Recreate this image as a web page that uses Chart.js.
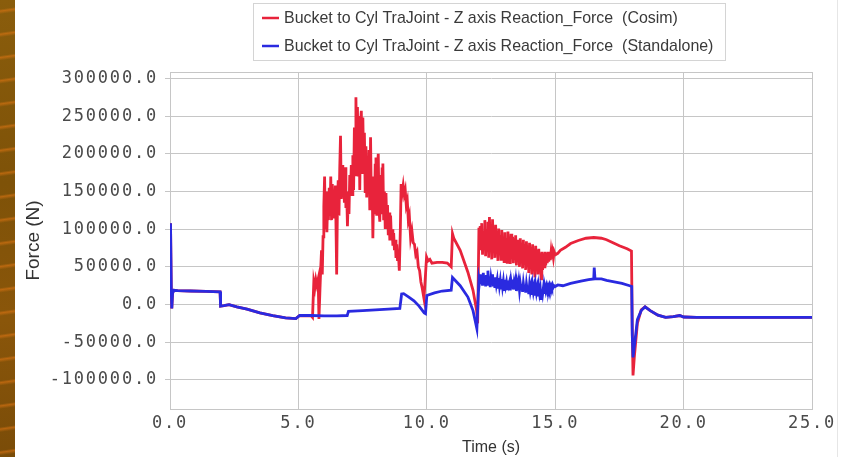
<!DOCTYPE html>
<html>
<head>
<meta charset="utf-8">
<script src="https://cdn.jsdelivr.net/npm/chart.js@4.4.1/dist/chart.umd.min.js"></script>
<style>
html,body{margin:0;padding:0;background:#fff;}
#wrap{position:relative;width:848px;height:457px;overflow:hidden;background:#fff;}
#strip{position:absolute;left:0;top:0;width:15px;height:457px;
  background:
   repeating-linear-gradient(172deg, rgba(0,0,0,0) 0px, rgba(0,0,0,0) 9px, rgba(230,120,20,0.55) 11px, rgba(0,0,0,0) 14px, rgba(0,0,0,0) 23px),
   linear-gradient(180deg,#8a5d0c 0%,#7e5208 40%,#8a560a 70%,#7a4c08 100%);}
#edge{position:absolute;left:837px;top:0;width:1px;height:457px;background:#e6e6e6;}
canvas{position:absolute;left:0;top:0;}
</style>
</head>
<body>
<div id="wrap">
  <div id="strip"></div>
  <div id="edge"></div>
  <canvas id="c" width="848" height="457"></canvas>
</div>
<script>
// ---------------- DATA ----------------
const seriesLabels = [
  "Bucket to Cyl TraJoint - Z axis Reaction_Force  (Cosim)",
  "Bucket to Cyl TraJoint - Z axis Reaction_Force  (Standalone)"
];
const xTickValues = [0, 5, 10, 15, 20, 25];
const yTickValues = [-100000, -50000, 0, 50000, 100000, 150000, 200000, 250000, 300000];

const timeStandalone = [
  0.00,0.02,0.05,0.07,0.10,0.15,0.30,0.80,1.40,1.95,1.97,2.10,2.30,2.60,3.00,3.50,4.00,4.50,4.90,5.05,
  5.50,6.00,6.50,6.90,6.95,7.50,8.00,8.50,8.95,9.02,9.10,9.30,9.50,9.70,9.90,9.95,10.00,10.30,10.60,10.95,
  11.00,11.30,11.60,11.80,11.95,12.03,
  12.05,12.08,12.11,12.14,12.17,12.20,12.23,12.26,12.29,12.32,12.35,12.38,12.41,12.44,12.47,12.50,12.53,12.56,12.59,12.62,
  12.65,12.68,12.71,12.74,12.77,12.80,12.83,12.86,12.89,12.92,12.95,12.98,13.01,13.04,13.07,13.10,13.13,13.16,13.19,13.22,
  13.25,13.28,13.31,13.34,13.37,13.40,13.43,13.46,13.49,13.52,13.55,13.58,13.61,13.64,13.67,13.70,13.73,13.76,13.79,13.82,
  13.85,13.88,13.91,13.94,13.97,14.00,14.03,14.06,14.09,14.12,14.15,14.18,14.21,14.24,14.27,14.30,14.33,14.36,14.39,14.42,
  14.45,14.48,14.51,14.54,14.57,14.60,14.63,14.66,14.69,14.72,14.75,14.78,14.81,14.84,14.87,14.90,14.93,14.96,15.00,15.10,
  15.30,15.60,16.00,16.30,16.50,16.52,16.55,16.80,17.00,17.30,17.60,17.90,17.98,18.00,18.03,18.10,18.20,18.35,18.50,18.70,
  19.00,19.30,19.60,19.85,20.00,20.50,21.00,22.00,23.00,24.00,25.00
];
const forceStandalone = [
  18000,108000,20000,-5000,15000,19000,18500,18000,17500,17000,-2000,-1500,0,-3000,-6000,-11000,-14500,-17500,-18500,-14500,
  -14500,-15000,-15000,-14500,-9000,-8000,-7000,-6000,-5000,14000,14500,10000,5000,-2000,-11000,-12000,12000,15500,18000,19000,
  36000,25000,10000,-8000,-32000,34000,
  30000,40000,27000,38000,25000,42000,28000,36000,24000,39000,27000,45000,26000,37000,23000,35000,28000,40000,24000,34000,
  22000,36000,27000,33000,21000,35000,25000,32000,22000,34000,24000,31000,20000,33000,25000,30000,21000,32000,26000,30000,
  19000,31000,24000,33000,20000,29000,23000,31000,18000,28000,22000,30000,19000,28000,21000,27000,17000,28000,20000,26000,
  16000,27000,19000,25000,14000,26000,18000,24000,13000,25000,17000,23000,12000,24000,16000,22000,11000,23000,15000,21000,
  8000,20000,14000,22000,16000,23000,18000,24000,19000,24000,20000,25000,21000,25000,22000,26000,23000,25000,24000,26000,
  25000,28000,31000,33000,34000,49000,34000,34000,32000,30000,28000,25000,24000,-40000,-70000,-50000,-20000,-8000,-3000,-8000,
  -14000,-17000,-16000,-14500,-16500,-17000,-17000,-17000,-17000,-17000,-17000
];

const timeCosim = [
  0.00,0.02,0.05,0.07,0.10,0.15,0.30,0.80,1.40,1.95,1.97,2.10,2.30,2.60,3.00,3.50,4.00,4.50,4.90,5.05,
  5.50,5.55,5.60,5.64,5.68,5.72,5.77,5.80,5.84,5.87,5.90,5.93,5.96,5.99,6.02,6.05,6.08,6.11,6.14,6.17,
  6.20,6.23,6.26,6.29,6.32,6.35,6.38,6.41,6.44,6.47,6.49,6.52,6.55,6.58,6.61,6.64,6.67,6.70,6.73,6.76,
  6.79,6.82,6.85,6.88,6.91,6.94,6.97,7.00,7.03,7.06,7.09,7.12,7.15,7.18,7.21,7.24,7.27,7.30,7.33,7.36,
  7.39,7.42,7.45,7.48,7.51,7.54,7.57,7.60,7.63,7.66,7.69,7.72,7.75,7.78,7.81,7.84,7.87,7.90,7.93,7.96,
  7.99,8.02,8.05,8.08,8.11,8.14,8.17,8.20,8.23,8.26,8.29,8.32,8.35,8.38,8.41,8.44,8.47,8.50,8.53,8.56,
  8.59,8.62,8.65,8.68,8.71,8.74,8.77,8.80,8.83,8.86,8.89,8.93,8.97,9.00,9.04,9.08,9.12,9.16,9.20,9.24,
  9.28,9.32,9.37,9.42,9.47,9.52,9.57,9.62,9.67,9.72,9.77,9.82,9.89,9.95,9.99,10.05,10.12,10.20,10.40,10.60,
  10.80,10.95,11.00,11.05,11.30,11.60,11.80,11.94,11.98,12.03,
  12.05,12.08,12.11,12.14,12.17,12.20,12.23,12.26,12.29,12.32,12.35,12.38,12.41,12.44,12.47,12.50,12.53,12.56,12.59,12.62,
  12.65,12.68,12.71,12.74,12.77,12.80,12.83,12.86,12.89,12.92,12.95,12.98,13.01,13.04,13.07,13.10,13.13,13.16,13.19,13.22,
  13.25,13.28,13.31,13.34,13.37,13.40,13.43,13.46,13.49,13.52,13.55,13.58,13.61,13.64,13.67,13.70,13.73,13.76,13.79,13.82,
  13.85,13.88,13.91,13.94,13.97,14.00,14.03,14.06,14.09,14.12,14.15,14.18,14.21,14.24,14.27,14.30,14.33,14.36,14.39,14.42,
  14.45,14.48,14.51,14.54,14.57,14.60,14.63,14.66,14.69,14.72,14.75,14.78,14.81,14.84,14.87,14.90,14.93,14.96,15.00,15.10,
  15.20,15.40,15.60,15.90,16.20,16.50,16.80,17.00,17.25,17.50,17.80,17.97,18.00,18.03,18.08,18.20,18.35,18.50,18.70,
  19.00,19.30,19.60,19.85,20.00,20.50,21.00,22.00,23.00,24.00,25.00
];
const forceCosim = [
  18000,108000,20000,-5000,15000,19000,18500,18000,17500,17000,-2000,-1500,0,-3000,-6000,-11000,-14500,-17500,-18500,-14500,
  -15000,-17000,30000,22000,33000,26000,34000,-19000,20000,48000,72000,40000,90000,130000,170000,100000,150000,96000,140000,112000,
  155000,118000,170000,112000,160000,116000,150000,125000,158000,90000,40000,130000,165000,118000,180000,224000,140000,185000,142000,175000,
  135000,182000,128000,150000,104000,140000,120000,172000,148000,185000,146000,198000,152000,235000,172000,275000,195000,262000,170000,250000,
  152000,240000,257000,175000,248000,182000,228000,150000,210000,142000,195000,150000,205000,125000,222000,140000,170000,88000,150000,120000,
  185000,195000,118000,180000,200000,125000,110000,172000,120000,180000,187000,112000,150000,102000,148000,110000,132000,92000,122000,85000,
  118000,88000,100000,78000,95000,72000,86000,62000,80000,58000,70000,45000,100000,160000,148000,158000,146000,152000,132000,138000,
  112000,118000,88000,98000,82000,80000,66000,70000,50000,45000,30000,22000,8000,40000,63000,58000,60000,55000,56000,56000,
  55000,50000,94000,88000,72000,43000,19000,-8000,-25000,102000,
  85000,104000,72000,108000,66000,98000,80000,112000,64000,100000,74000,110000,62000,116000,70000,104000,60000,113000,76000,98000,
  62000,106000,70000,95000,58000,101000,66000,92000,60000,99000,72000,90000,57000,96000,64000,88000,56000,97000,68000,86000,
  54000,94000,62000,90000,55000,88000,66000,92000,52000,86000,60000,84000,50000,88000,58000,82000,48000,86000,56000,80000,
  46000,84000,54000,78000,42000,82000,50000,76000,40000,80000,48000,74000,36000,78000,46000,72000,40000,74000,44000,68000,
  34000,70000,46000,68000,50000,70000,52000,68000,55000,70000,57000,69000,59000,70000,61000,69000,62000,70000,66000,68000,
  72000,76000,81000,85000,88000,89000,88000,86000,82000,78000,74000,71000,-30000,-94000,-70000,-25000,-7000,-3000,-8000,
  -14000,-17000,-16000,-14500,-16500,-17000,-17000,-17000,-17000,-17000,-17000
];

// ---------------- STYLE ----------------
const RED = '#e8233b';
const BLUE = '#2a2ae0';
const GRID = '#c6c6c6';
const TICK_COLOR = '#4a4a4a';
const monoFont = {family: "'DejaVu Sans Mono', monospace", size: 17};

function toPoints(xs, ys) { return xs.map((x, i) => ({x: x, y: ys[i]})); }

const spacingPlugin = {
  id: 'spacing',
  beforeDraw(chart) { chart.ctx.letterSpacing = '0px'; },
  afterDatasetsDraw(chart) { chart.ctx.letterSpacing = '1.8px'; },
  afterDraw(chart) { chart.ctx.letterSpacing = '0px'; }
};

const framePlugin = {
  id: 'frame',
  beforeDatasetsDraw(chart) {
    const {ctx, chartArea: a} = chart;
    ctx.save();
    ctx.strokeStyle = GRID;
    ctx.lineWidth = 1;
    ctx.strokeRect(Math.round(a.left) + 0.5, Math.round(a.top) + 0.5, Math.round(a.right - a.left), Math.round(a.bottom - a.top));
    ctx.restore();
  }
};

const legendPlugin = {
  id: 'boxLegend',
  afterDraw(chart) {
    const ctx = chart.ctx;
    ctx.save();
    ctx.letterSpacing = '0px';
    const bx = 253, by = 3, bw = 472, bh = 57;
    ctx.fillStyle = '#ffffff';
    ctx.fillRect(bx, by, bw, bh);
    ctx.strokeStyle = '#d4d4d4';
    ctx.lineWidth = 1;
    ctx.strokeRect(bx + 0.5, by + 0.5, bw, bh);
    let size = 14;
    ctx.font = size + "px 'Liberation Sans', Arial, sans-serif";
    const w = ctx.measureText(seriesLabels[0]).width;
    size = size * 394 / w;
    ctx.font = size.toFixed(2) + "px 'Liberation Sans', Arial, sans-serif";
    const rows = [18, 46];
    const cols = [RED, BLUE];
    chart.data.datasets.forEach((ds, i) => {
      ctx.strokeStyle = cols[i];
      ctx.lineWidth = 2.5;
      ctx.beginPath();
      ctx.moveTo(262, rows[i]);
      ctx.lineTo(279, rows[i]);
      ctx.stroke();
      ctx.fillStyle = '#3a3a3a';
      ctx.textBaseline = 'middle';
      ctx.textAlign = 'left';
      ctx.fillText(ds.label, 284, rows[i] + 1);
    });
    ctx.restore();
  }
};

new Chart(document.getElementById('c'), {
  type: 'line',
  data: {
    datasets: [
      {label: seriesLabels[0], data: toPoints(timeCosim, forceCosim), borderColor: RED, backgroundColor: RED,
       borderWidth: 2.8, pointRadius: 0, tension: 0, order: 2, fill: false},
      {label: seriesLabels[1], data: toPoints(timeStandalone, forceStandalone), borderColor: BLUE, backgroundColor: BLUE,
       borderWidth: 2.8, pointRadius: 0, tension: 0, order: 1, fill: false}
    ]
  },
  options: {
    responsive: false,
    animation: false,
    devicePixelRatio: 1,
    layout: {padding: {left: 15, right: 36, top: 72, bottom: 0}},
    plugins: {legend: {display: false}, tooltip: {enabled: false}},
    scales: {
      x: {
        type: 'linear', min: 0, max: 25,
        afterBuildTicks: s => { s.ticks = xTickValues.map(v => ({value: v})); },
        afterFit: s => { s.height = 48; },
        ticks: {z: 1, callback: v => Number(v).toFixed(1), font: monoFont, color: TICK_COLOR, padding: 4,
                maxRotation: 0, autoSkip: false},
        grid: {color: GRID, drawTicks: false},
        border: {color: GRID},
        title: {display: true, text: 'Time (s)', color: '#333333',
                font: {family: "'Liberation Sans', Arial, sans-serif", size: 16}, padding: {top: 0, bottom: 0}}
      },
      y: {
        type: 'linear', min: -138500, max: 308500,
        afterBuildTicks: s => { s.ticks = yTickValues.map(v => ({value: v})); },
        afterFit: s => { s.width = 155; },
        ticks: {z: 1, callback: v => Number(v).toFixed(1), font: monoFont, color: TICK_COLOR, padding: 7, autoSkip: false},
        grid: {color: GRID, tickLength: 5},
        border: {color: GRID},
        title: {display: true, text: 'Force (N)', color: '#333333',
                font: {family: "'Liberation Sans', Arial, sans-serif", size: 19}, padding: {top: 7, bottom: 0}}
      }
    }
  },
  plugins: [spacingPlugin, framePlugin, legendPlugin]
});
</script>
</body>
</html>
